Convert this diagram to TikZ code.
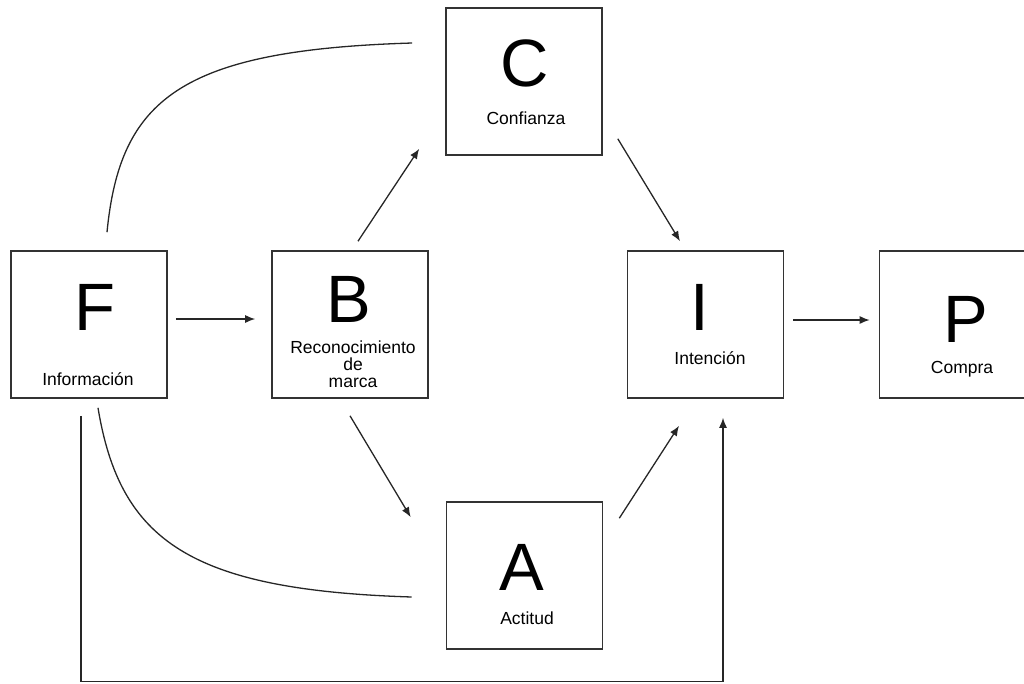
\documentclass[tikz,border=0pt]{standalone}
\usepackage{fontspec}
\setmainfont{Liberation Sans}
\usetikzlibrary{arrows.meta}

\begin{document}
\begin{tikzpicture}[
        x=1pt, y=-1pt,
        box/.style={rectangle, draw=black!80, line width=1.6pt, minimum width=156pt, minimum height=147pt, inner sep=0pt},
        letter/.style={inner sep=0pt, anchor=base, font=\fontsize{67}{67}\selectfont},
        caption/.style={inner sep=0pt, anchor=base, align=center, font=\fontsize{17.5}{17}\selectfont},
        link/.style={draw=black!85, line width=1.3pt},
        arrow/.style={link, -{Latex[length=10pt, width=8pt]}}
    ]
        \clip (0,0) rectangle (1024,683);

        % Boxes
        \foreach \n/\x/\y in {F/89/324.5, B/350/324.5, C/524/81.5, I/705.5/324.5, P/957.5/324.5, A/524.5/575.5} {
            \node[box] (\n) at (\x,\y) {};
        }

        % Letters and captions
        \node[letter] (F-l) at (95,330) {F};
        \node[caption] (F-t) at (88,385) {Información};
        \node[letter] (B-l) at (349,322) {B};
        \node[caption] (B-t) at (353,387) {Reconocimiento\\de\\marca};
        \node[letter] (C-l) at (525,86) {C};
        \node[caption] (C-t) at (526,124) {Confianza};
        \node[letter] (I-l) at (700,330) {I};
        \node[caption] (I-t) at (710,364) {Intención};
        \node[letter] (P-l) at (966,342) {P};
        \node[caption] (P-t) at (962,373) {Compra};
        \node[letter] (A-l) at (522,590) {A};
        \node[caption] (A-t) at (527,624) {Actitud};

        % Arrows between boxes
        \draw[arrow] ([shift={(8,-5.5)}]F.east) -- ([shift={(-16,-5.5)}]B.west);
        \draw[arrow] ([shift={(8,-9)}]B.north) -- ([shift={(-26,-7)}]C.south west);
        \draw[arrow] ([shift={(0,17)}]B.south) -- ([shift={(-35,16)}]A.north west);
        \draw[arrow] ([shift={(15,-17)}]C.south east) -- ([shift={(-25.5,-9)}]I.north);
        \draw[arrow] ([shift={(16,17)}]A.north east) -- ([shift={(-26.5,27)}]I.south);
        \draw[arrow] ([shift={(9,-4.5)}]I.east) -- ([shift={(-9,-4.5)}]P.west);

        % Curves from F
        \draw[link] ([shift={(18,-18)}]F.north) .. controls +(13,-133) and +(-232,7) .. ([shift={(-33,-38.5)}]C.west);
        \draw[link] ([shift={(9,9)}]F.south) .. controls +(22,133) and +(-222,-7) .. ([shift={(-34,21.5)}]A.west);

        % Direct path from F to I
        \draw[arrow] ([shift={(-8,17)}]F.south) -- ++(0,266) -| ([shift={(17.5,19)}]I.south);
    \end{tikzpicture}
\end{document}
